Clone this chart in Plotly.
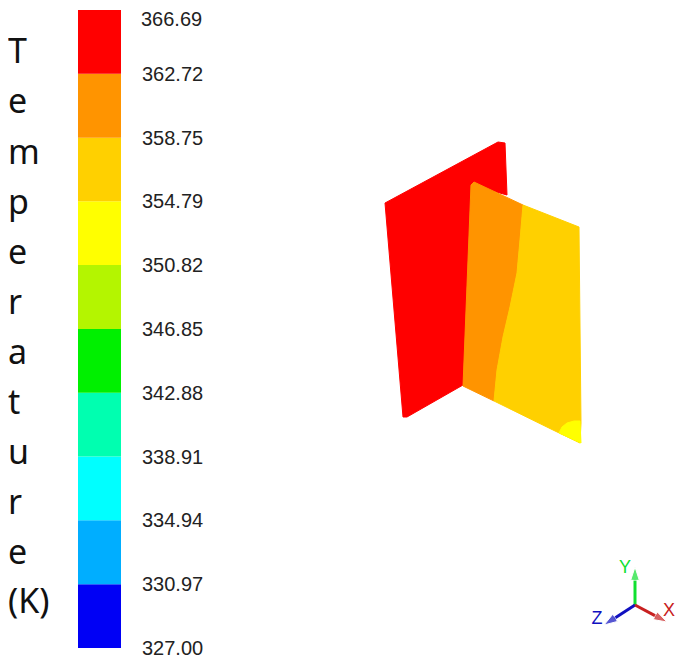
'''
    Temperature contour of a T-shaped fin, with its stepped colour bar.
'''

import plotly.graph_objects as go

# colour bar
levels = [327.00, 330.97, 334.94, 338.91, 342.88, 346.85,
          350.82, 354.79, 358.75, 362.72, 366.69]
level_colors = ['#0000f5', '#00aeff', '#00ffff', '#00ffb0', '#00f000',
                '#b4f500', '#ffff00', '#ffd000', '#ff9400', '#ff0000']

# title, one letter per row (image pixels)
title_letters = ['T', 'e', 'm', 'p', 'e', 'r', 'a', 't', 'u', 'r', 'e', '(K)']
title_rows = [54, 104, 155, 205, 255, 305, 355, 405, 455, 505, 555, 604]

# contour regions of the fin (image pixels)
red_x = [385, 498, 505, 507, 471, 463, 407, 403]
red_y = [203, 142, 143, 195, 185, 385, 417, 417]
orange_x = [471, 474, 523, 520, 517, 510, 503, 497, 494, 463]
orange_y = [185, 182, 205, 240, 273, 307, 337, 370, 401, 386]
amber_x = [523, 579, 581, 580, 553, 494, 497, 503, 510, 517, 520]
amber_y = [205, 227, 423, 443, 430, 401, 370, 337, 307, 273, 240]
yellow_x = [559, 562, 567, 574, 580, 581, 570]
yellow_y = [433, 427, 423, 421, 421, 443, 438]

# axis triad (image pixels)
triad_origin = (635, 605)
triad_tips = {'Y': (635, 567), 'Z': (604, 625), 'X': (667, 622)}
triad_colors = {'Y': '#10e030', 'Z': '#1010c0', 'X': '#c82020'}
triad_labels = {'Y': (625, 568), 'Z': (597, 619), 'X': (669, 611)}

# the page body keeps an 8px margin, so the figure starts there
PAGE_MARGIN = 8
FIG_W = 685 - PAGE_MARGIN
FIG_H = 660 - PAGE_MARGIN
LEVEL_PAD = 0.1
LABEL_FONT = dict(family='Liberation Sans', size=20, color='#222222')

fig = go.Figure()

for low, high, color in zip(levels[:-1], levels[1:], level_colors):
    fig.add_trace(go.Bar(x=[0], y=[high - low], base=[low], width=1,
                         marker=dict(color=color, line_width=0),
                         xaxis='x2', yaxis='y2'))

regions = [(red_x, red_y, '#ff0000'),
           (orange_x, orange_y, '#ff9400'),
           (amber_x, amber_y, '#ffd000'),
           (yellow_x, yellow_y, '#ffff00')]
for xs, ys, color in regions:
    fig.add_trace(go.Scatter(x=xs + xs[:1], y=ys + ys[:1], mode='lines',
                             fill='toself', fillcolor=color,
                             line=dict(color=color, width=1)))

for name, tip in triad_tips.items():
    fig.add_trace(go.Scatter(x=[triad_origin[0], tip[0]],
                             y=[triad_origin[1], tip[1]],
                             mode='lines+markers',
                             line=dict(color=triad_colors[name], width=3),
                             marker=dict(symbol='arrow', size=[0, 14],
                                         angleref='previous',
                                         color=triad_colors[name])))
    fig.add_trace(go.Scatter(x=[triad_labels[name][0]],
                             y=[triad_labels[name][1]],
                             mode='text', text=[name], cliponaxis=False,
                             textfont=dict(family='Liberation Sans', size=18,
                                           color=triad_colors[name])))

fig.add_trace(go.Scatter(x=[PAGE_MARGIN] * len(title_letters), y=title_rows,
                         mode='text', text=title_letters,
                         textposition='middle right', cliponaxis=False,
                         textfont=dict(family='Noto Sans', size=34,
                                       color='#111111')))

# top tick label sits too near the page edge to be an axis label, it would clip
fig.add_trace(go.Scatter(x=[141], y=[21], mode='text',
                         text=['%.2f' % levels[-1]], cliponaxis=False,
                         textposition='middle right', textfont=LABEL_FONT))

px_per_level = (648 - 10) / (levels[-1] - levels[0])
pad_px = LEVEL_PAD * px_per_level

fig.update_layout(width=FIG_W, height=FIG_H, autosize=False,
                  margin=dict(l=0, r=0, t=0, b=0, autoexpand=False),
                  paper_bgcolor='white', plot_bgcolor='rgba(0,0,0,0)',
                  showlegend=False, barmode='overlay',
                  xaxis=dict(domain=[0, 1], range=[PAGE_MARGIN, 685],
                             visible=False),
                  yaxis=dict(domain=[0, 1], range=[660, PAGE_MARGIN],
                             visible=False),
                  xaxis2=dict(domain=[(78 - PAGE_MARGIN) / FIG_W,
                                      (121 - PAGE_MARGIN) / FIG_W],
                              range=[-0.5, 0.5], visible=False, anchor='y2'),
                  yaxis2=dict(domain=[(660 - 648 - pad_px) / FIG_H,
                                      (660 - 10 + pad_px) / FIG_H],
                              range=[levels[0] - LEVEL_PAD,
                                     levels[-1] + LEVEL_PAD],
                              anchor='x2', side='right', showgrid=False,
                              zeroline=False, showline=False, automargin=False,
                              tickmode='array', tickvals=levels[:-1],
                              ticktext=['%.2f' % v for v in levels[:-1]],
                              ticks='outside', ticklen=16,
                              ticklabeloverflow='allow',
                              tickcolor='rgba(0,0,0,0)',
                              tickfont=LABEL_FONT))

fig.write_html("out.html")
